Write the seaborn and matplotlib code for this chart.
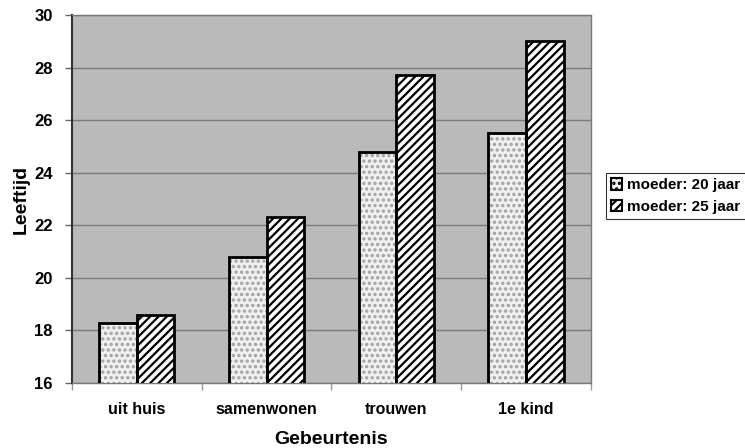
import pandas as pd
import numpy as np
import matplotlib.pyplot as plt
import seaborn as sns
from matplotlib.patches import Rectangle

# data
events = ["uit huis", "samenwonen", "trouwen", "1e kind"]
moeder_20 = [18.3, 20.8, 24.8, 25.5]
moeder_25 = [18.6, 22.3, 27.7, 29.0]
series = ["moeder: 20 jaar", "moeder: 25 jaar"]
y_ticks = [16, 18, 20, 22, 24, 26, 28, 30]

df = pd.DataFrame({
    "Gebeurtenis": events * 2,
    "Leeftijd": moeder_20 + moeder_25,
    "groep": [series[0]] * 4 + [series[1]] * 4,
})

sns.set_theme(style="white")
plt.rcParams["font.family"] = ["Liberation Sans", "DejaVu Sans"]
plt.rcParams["font.weight"] = "bold"
plt.rcParams["text.color"] = "black"
plt.rcParams["hatch.linewidth"] = 1.6

fig = plt.figure(figsize=(7.45, 4.48), dpi=100)
ax = fig.add_axes([0.0966, 0.145, 0.6966, 0.8215])
ax.set_facecolor("#bababa")

sns.barplot(df, x="Gebeurtenis", y="Leeftijd", hue="groep", width=0.58,
            palette=["#f0f0f0", "white"], edgecolor="black", linewidth=2,
            ax=ax, zorder=3, legend=True)

# light stipple for the first series (gray hatch + black outline on top),
# thick diagonal hatch for the second
hatches = ["...", "////"]
for p in ax.containers[0]:
    p.set_hatch(hatches[0])
    p.set_edgecolor("#a0a0a0")
    ax.add_patch(Rectangle(p.get_xy(), p.get_width(), p.get_height(), fill=False,
                           edgecolor="black", linewidth=2, zorder=4))
for p in ax.containers[1]:
    p.set_hatch(hatches[1])

ax.set_ylim(16, 30)
ax.set_yticks(y_ticks)
ax.set_xlim(-0.5, 3.5)
ax.yaxis.grid(True, color="#7a7a7a", linewidth=1, zorder=1)
ax.set_axisbelow(True)

ax.tick_params(axis="y", which="major", left=True, length=5, width=1, color="#666666",
               labelsize=12, pad=9, labelcolor="black")
ax.set_xticks(np.arange(4))
ax.set_xticks(np.arange(-0.5, 4, 1), minor=True)
ax.tick_params(axis="x", which="major", length=0, labelsize=11.5, pad=14, labelcolor="black")
ax.tick_params(axis="x", which="minor", bottom=True, length=5, width=1, color="#999999")
for lab in ax.get_xticklabels() + ax.get_yticklabels():
    lab.set_fontweight("bold")

ax.set_xlabel("Gebeurtenis", fontsize=14, fontweight="bold", labelpad=10, color="black")
ax.set_ylabel("Leeftijd", fontsize=14, fontweight="bold", labelpad=3, color="black")

for side in ["top", "right", "bottom"]:
    ax.spines[side].set_color("#777777")
    ax.spines[side].set_linestyle((0, (1, 1)))
    ax.spines[side].set_linewidth(1)
ax.spines["left"].set_color("#333333")
ax.spines["left"].set_linewidth(1.5)

leg = ax.legend(loc="upper left", bbox_to_anchor=(0.813, 0.614),
                bbox_transform=fig.transFigure, frameon=True, fancybox=False,
                handlelength=0.75, handleheight=0.75, handletextpad=0.3,
                borderpad=0.35, labelspacing=0.5, borderaxespad=0,
                prop={"size": 11, "weight": "bold"})
leg.get_frame().set_edgecolor("black")
leg.get_frame().set_linewidth(0.8)
for hnd, h in zip(leg.legend_handles, hatches):
    hnd.set_hatch(h)
    hnd.set_edgecolor("black")
    hnd.set_linewidth(1.5)

fig.savefig("out.png", dpi=100)
